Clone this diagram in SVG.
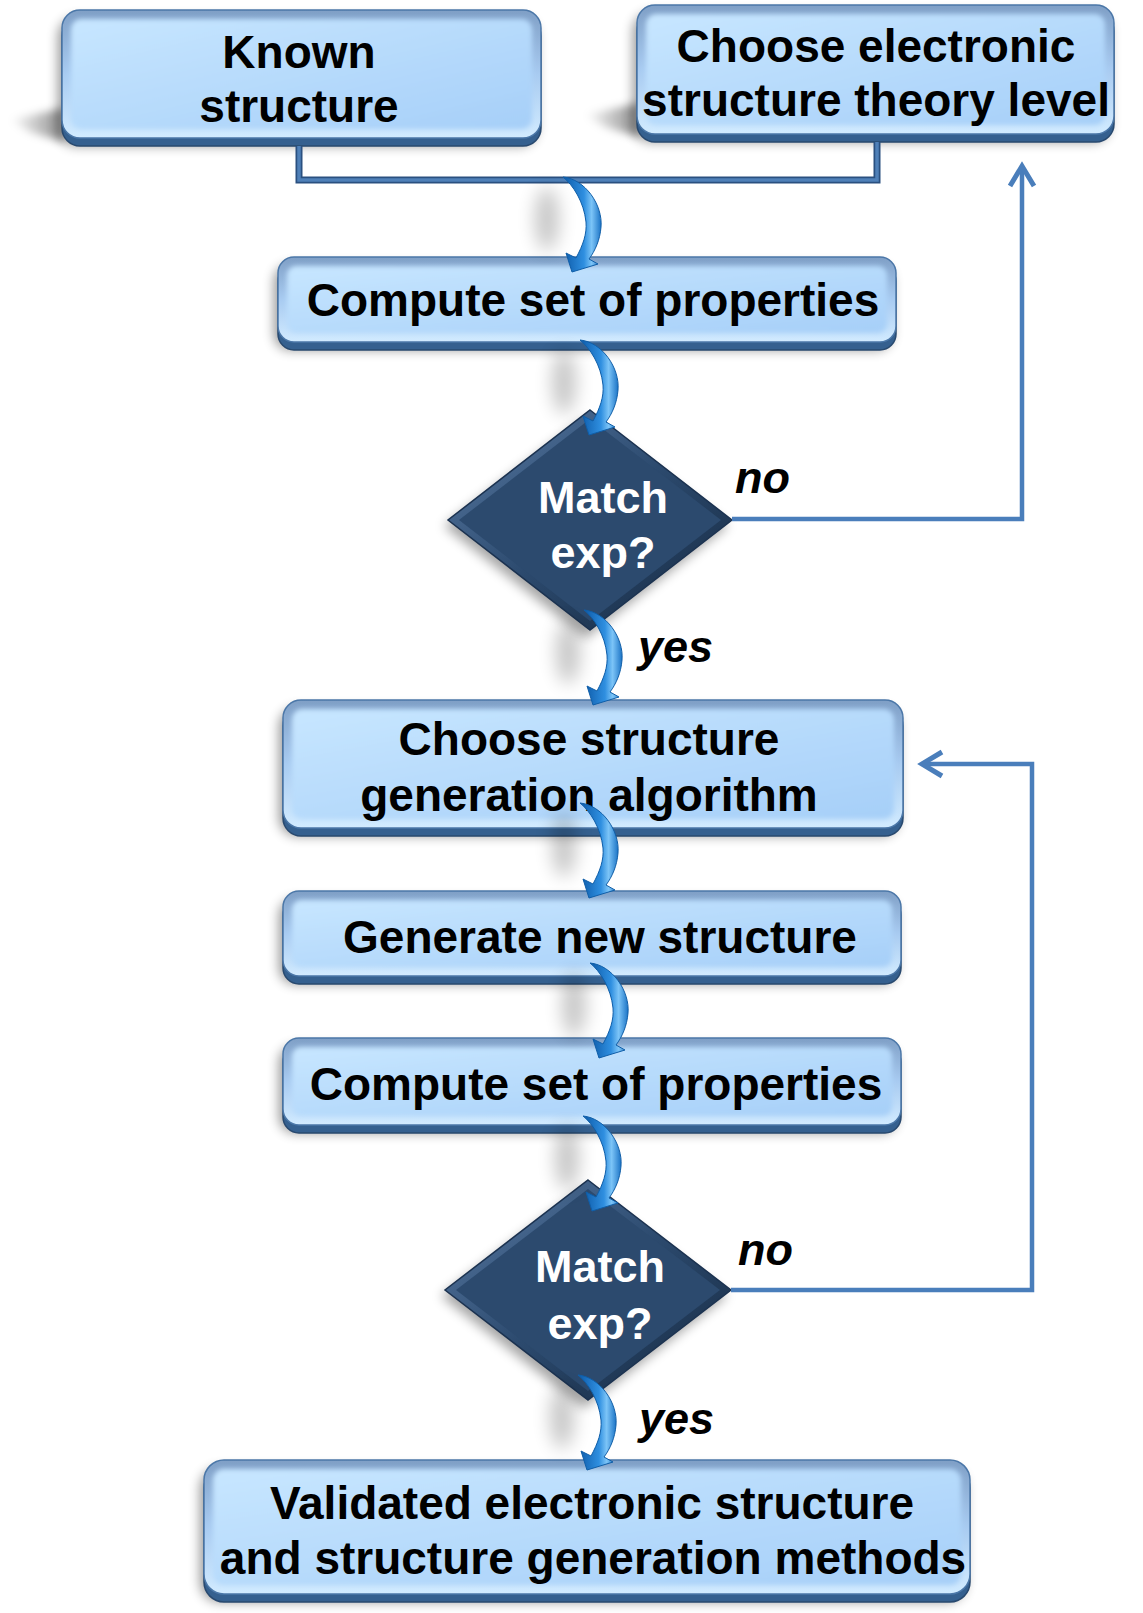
<svg xmlns="http://www.w3.org/2000/svg" width="1143" height="1613" viewBox="0 0 1143 1613">
<defs>
<style>
.t{font-family:"Liberation Sans",Arial,sans-serif;font-weight:bold;font-size:46px;fill:#000;text-anchor:middle}
.dt{fill:#fff;font-size:45px}
.lbl{font-family:"Liberation Sans",Arial,sans-serif;font-weight:bold;font-style:italic;font-size:45px;fill:#000}
.fb{fill:none;stroke:#4a7ebb;stroke-width:4.5}
.ah{fill:none;stroke:#4a7ebb;stroke-width:5}
.ext{fill:#35608f;stroke:#28496f;stroke-width:1.5}
.face{fill:url(#gFace);stroke:#4b77a8;stroke-width:1.5}
.inner{fill:url(#gInner);filter:url(#soft)}
.shd{fill:#000;opacity:.4;filter:url(#blur)}
.dOut{fill:url(#gDia);stroke:#1b3250;stroke-width:1.5}
.dIn{fill:#2c4a6e}
.streak{fill:url(#gStreak);filter:url(#blur3)}
</style>
<linearGradient id="gFace" x1="0" y1="0" x2="0" y2="1">
<stop offset="0" stop-color="#7f9fc6"/><stop offset=".5" stop-color="#a8cbf1"/><stop offset="1" stop-color="#d2ebff"/>
</linearGradient>
<linearGradient id="gInner" x1="0" y1="0" x2="1" y2="1">
<stop offset="0" stop-color="#c7e6ff"/><stop offset="1" stop-color="#a6cff8"/>
</linearGradient>
<linearGradient id="gDia" x1="0" y1="0" x2="1" y2="1">
<stop offset="0" stop-color="#5a7ca6"/><stop offset=".5" stop-color="#2c4a6e"/><stop offset="1" stop-color="#15283f"/>
</linearGradient>
<linearGradient id="gStreak" x1="0" y1="0" x2="1" y2="0">
<stop offset="0" stop-color="#000" stop-opacity="0"/><stop offset="1" stop-color="#000" stop-opacity=".45"/>
</linearGradient>
<linearGradient id="gArrow" x1="0" y1="0" x2="1" y2="0">
<stop offset="0" stop-color="#0d5aa8"/><stop offset=".55" stop-color="#2f8fe0"/><stop offset=".75" stop-color="#7cc4f7"/><stop offset="1" stop-color="#1c74c6"/>
</linearGradient>
<filter id="blur" x="-50%" y="-50%" width="200%" height="200%"><feGaussianBlur stdDeviation="6"/></filter>
<filter id="blur9" x="-100%" y="-50%" width="300%" height="200%"><feGaussianBlur stdDeviation="9"/></filter>
<filter id="blur3" x="-20%" y="-50%" width="140%" height="200%"><feGaussianBlur stdDeviation="4"/></filter>
<filter id="soft" x="-5%" y="-10%" width="110%" height="120%"><feGaussianBlur stdDeviation="2.5"/></filter>
<g id="carrow">
<ellipse cx="-16" cy="42" rx="12" ry="32" fill="#000" opacity=".22" filter="url(#blur9)"/>
<path d="M0,0 C22,2 40,28 38,50 C37,63 32,74 26,82 L35,87 L9,95 L3,76 L13,81 C20,68 24,57 23,45 C21,25 10,8 0,0 Z" fill="url(#gArrow)" stroke="#0f5ea8" stroke-width="1"/>
</g>
</defs>
<rect width="1143" height="1613" fill="#fff"/>

<g id="n-known">
<polygon class="streak" points="64,108 64,142 30,132 10,120"/>
<rect class="shd" x="58" y="18" width="479" height="128" rx="18"/>
<rect class="ext" x="62" y="18" width="479" height="128" rx="18"/>
<rect class="face" x="62" y="10" width="479" height="128" rx="18"/>
<rect class="inner" x="71" y="19" width="461" height="110" rx="10"/>
<text class="t" x="299" y="68">Known</text>
<text class="t" x="299" y="122">structure</text>
</g>

<g id="n-theory">
<polygon class="streak" points="639,103 639,137 605,127 585,115"/>
<rect class="shd" x="633" y="13" width="477" height="129" rx="18"/>
<rect class="ext" x="637" y="13" width="477" height="129" rx="18"/>
<rect class="face" x="637" y="5" width="477" height="129" rx="18"/>
<rect class="inner" x="646" y="14" width="459" height="111" rx="10"/>
<text class="t" x="876" y="62">Choose electronic</text>
<text class="t" x="876" y="116">structure theory level</text>
</g>

<g id="n-compute1">
<rect class="shd" x="274" y="265" width="618" height="85" rx="16"/>
<rect class="ext" x="278" y="265" width="618" height="85" rx="16"/>
<rect class="face" x="278" y="257" width="618" height="85" rx="16"/>
<rect class="inner" x="287" y="266" width="600" height="67" rx="9"/>
<text class="t" x="593" y="316">Compute set of properties</text>
</g>

<g id="n-match1">
<polygon points="586,418 728,526 586,638 444,526" fill="#000" opacity=".35" filter="url(#blur)"/>
<polygon class="dOut" points="590,410 732,520 590,630 448,520"/>
<polygon class="dIn" points="590,419 721,520 590,621 459,520"/>
<text class="t dt" x="603" y="513">Match</text>
<text class="t dt" x="603" y="568">exp?</text>
</g>

<g id="n-choosealg">
<rect class="shd" x="279" y="708" width="620" height="128" rx="18"/>
<rect class="ext" x="283" y="708" width="620" height="128" rx="18"/>
<rect class="face" x="283" y="700" width="620" height="128" rx="18"/>
<rect class="inner" x="292" y="709" width="602" height="110" rx="10"/>
<text class="t" x="589" y="755">Choose structure</text>
<text class="t" x="589" y="811">generation algorithm</text>
</g>

<g id="n-generate">
<rect class="shd" x="279" y="899" width="618" height="85" rx="16"/>
<rect class="ext" x="283" y="899" width="618" height="85" rx="16"/>
<rect class="face" x="283" y="891" width="618" height="85" rx="16"/>
<rect class="inner" x="292" y="900" width="600" height="67" rx="9"/>
<text class="t" x="600" y="953">Generate new structure</text>
</g>

<g id="n-compute2">
<rect class="shd" x="279" y="1046" width="618" height="87" rx="16"/>
<rect class="ext" x="283" y="1046" width="618" height="87" rx="16"/>
<rect class="face" x="283" y="1038" width="618" height="87" rx="16"/>
<rect class="inner" x="292" y="1047" width="600" height="69" rx="9"/>
<text class="t" x="596" y="1100">Compute set of properties</text>
</g>

<g id="n-match2">
<polygon points="584,1188 727,1296 584,1408 441,1296" fill="#000" opacity=".35" filter="url(#blur)"/>
<polygon class="dOut" points="588,1180 731,1290 588,1400 445,1290"/>
<polygon class="dIn" points="588,1189 720,1290 588,1391 456,1290"/>
<text class="t dt" x="600" y="1282">Match</text>
<text class="t dt" x="600" y="1339">exp?</text>
</g>

<g id="n-validated">
<rect class="shd" x="200" y="1468" width="766" height="134" rx="20"/>
<rect class="ext" x="204" y="1468" width="766" height="134" rx="20"/>
<rect class="face" x="204" y="1460" width="766" height="134" rx="20"/>
<rect class="inner" x="213" y="1469" width="748" height="116" rx="11"/>
<text class="t" x="592" y="1519">Validated electronic structure</text>
<text class="t" x="593" y="1574">and structure generation methods</text>
</g>

<g id="connectors">
<polyline points="299,146 299,180 877,180 877,142" fill="none" stroke="#2a5080" stroke-width="7"/>
<polyline points="299,146 299,180 877,180 877,142" fill="none" stroke="#4f80b8" stroke-width="3.5"/>
<polyline class="fb" points="732,519 1022,519 1022,166"/>
<polyline class="ah" points="1010,186 1022,166 1034,186"/>
<polyline class="fb" points="731,1290 1032,1290 1032,764 922,764"/>
<polyline class="ah" points="942,752 922,764 942,776"/>
<use href="#carrow" x="563" y="177"/>
<use href="#carrow" x="580" y="340"/>
<use href="#carrow" x="584" y="610"/>
<use href="#carrow" x="580" y="803"/>
<use href="#carrow" x="590" y="963"/>
<use href="#carrow" x="583" y="1116"/>
<use href="#carrow" x="578" y="1375"/>
<text class="lbl" x="735" y="493">no</text>
<text class="lbl" x="638" y="662">yes</text>
<text class="lbl" x="738" y="1265">no</text>
<text class="lbl" x="639" y="1434">yes</text>
</g>
</svg>
